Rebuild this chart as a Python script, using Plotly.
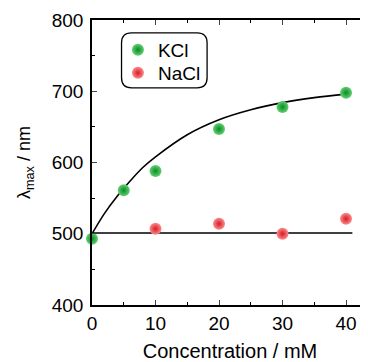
import plotly.graph_objects as go

# Data
kcl_x = [0, 5, 10, 20, 30, 40]
kcl_y = [493, 561, 588, 647, 678, 698]
nacl_x = [10, 20, 30, 40]
nacl_y = [507, 514, 500, 521]
fit_kcl_x = [0, 2, 4, 6, 8, 10, 15, 20, 25, 30, 35, 40]
fit_kcl_y = [500, 529, 553, 574, 593, 608, 639, 660, 674, 684, 691, 696]
fit_nacl_x = [0, 41]
fit_nacl_y = [501, 501]
x_ticks = [0, 10, 20, 30, 40]
y_ticks = [400, 500, 600, 700, 800]

FONT = "Liberation Sans, Arial, sans-serif"

fig = go.Figure()
fig.add_trace(go.Scatter(x=fit_kcl_x, y=fit_kcl_y, mode="lines", line=dict(color="black", width=1.6, shape="spline"),
                         showlegend=False, hoverinfo="skip"))
fig.add_trace(go.Scatter(x=fit_nacl_x, y=fit_nacl_y, mode="lines", line=dict(color="black", width=1.6),
                         showlegend=False, hoverinfo="skip"))
fig.add_trace(go.Scatter(x=kcl_x, y=kcl_y, mode="markers", name="KCl", cliponaxis=False, legend="legend",
                         marker=dict(size=12, color="#62d070", line=dict(width=0),
                                     gradient=dict(type="radial", color="#0b8a28"))))
fig.add_trace(go.Scatter(x=nacl_x, y=nacl_y, mode="markers", name="NaCl", cliponaxis=False, legend="legend2",
                         marker=dict(size=12, color="#ff8a8a", line=dict(width=0),
                                     gradient=dict(type="radial", color="#d21c28"))))

def rrect(x0, y0, x1, y1, rx, ry):
    return (f"M {x0+rx} {y1} L {x1-rx} {y1} Q {x1} {y1} {x1} {y1-ry} L {x1} {y0+ry} Q {x1} {y0} {x1-rx} {y0} "
            f"L {x0+rx} {y0} Q {x0} {y0} {x0} {y0+ry} L {x0} {y1-ry} Q {x0} {y1} {x0+rx} {y1} Z")

leg_common = dict(xanchor="left", yanchor="middle", bgcolor="rgba(0,0,0,0)", borderwidth=0,
                  font=dict(size=19), itemwidth=30)

fig.update_layout(
    width=360, height=354,
    margin=dict(l=84, r=0, t=12, b=57),
    paper_bgcolor="white", plot_bgcolor="white",
    font=dict(family=FONT, size=19, color="black"),
    legend=dict(x=0.094, y=0.895, **leg_common),
    legend2=dict(x=0.094, y=0.814, **leg_common),
    shapes=[dict(type="path", xref="paper", yref="paper",
                 path=rrect(0.107, 0.762, 0.417, 0.955, 0.036, 0.035),
                 line=dict(color="black", width=1.3))],
)
fig.update_xaxes(range=[0, 43.46], tickvals=x_ticks, ticks="inside", ticklen=5, tickwidth=1.3,
                 showline=True, linecolor="black", linewidth=1.5, mirror="ticks", showgrid=False, zeroline=False,
                 automargin=False, ticklabelstandoff=0,
                 minor=dict(dtick=5, ticks="inside", ticklen=3, tickwidth=1.2, tickcolor="black"),
                 title=dict(text="Concentration / mM", font=dict(size=20), standoff=11),
                 tickfont=dict(size=19))
fig.update_yaxes(range=[400, 800], tickvals=y_ticks, ticks="inside", ticklen=5, tickwidth=1.3,
                 showline=True, linecolor="black", linewidth=1.5, mirror=False, showgrid=False, zeroline=False,
                 automargin=False, ticklabelstandoff=3,
                 minor=dict(dtick=50, ticks="inside", ticklen=3, tickwidth=1.2, tickcolor="black"),
                 title=dict(text="λ<sub>max</sub> / nm", font=dict(size=18), standoff=16),
                 tickfont=dict(size=19))

fig.write_html("out.html")
